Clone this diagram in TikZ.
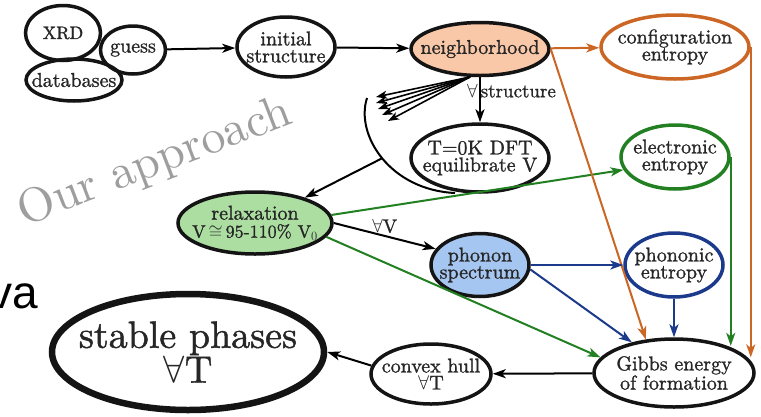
\RequirePackage{fix-cm}
\documentclass[tikz,border=0pt]{standalone}
\usepackage{fontspec}
\setmainfont{lmroman10-regular.otf}
\newfontfamily\nf{lmroman10-regular.otf}[FakeBold=1.2]
\newfontfamily\sansva{Liberation Sans}
\usetikzlibrary{shapes.geometric,arrows.meta}
\definecolor{corange}{RGB}{204,102,36}
\definecolor{cgreen}{RGB}{34,128,34}
\definecolor{cblue}{RGB}{28,58,140}
\definecolor{fpeach}{RGB}{249,200,168}
\definecolor{fgreen}{RGB}{172,222,162}
\definecolor{fblue}{RGB}{165,198,240}
\begin{document}
\begin{tikzpicture}[x=1pt,y=-1pt,
  ell/.style={ellipse, draw=black!92, line width=3.5pt, inner sep=0pt},
  txt/.style={font=\nf\fontsize{20}{17}\selectfont, text=black!85, align=center, inner sep=0pt},
  lbl/.style={font=\nf\fontsize{19}{19}\selectfont, text=black!85, inner sep=2pt},
  arr/.style={line width=2pt, -{Stealth[length=13pt,width=9pt,inset=3.5pt]}},
  fanarr/.style={line width=1.6pt, -{Stealth[length=11pt,width=8pt,inset=3pt]}}]
\clip (0,0) rectangle (761,416);
\fill[white] (0,0) rectangle (761,416);

% background texts
\node[font=\fontsize{48}{48}\selectfont, text=black!38, rotate=21] (ourapp) at (155,163) {Our approach};
\node[font=\sansva\fontsize{46}{46}\selectfont, anchor=base west, inner sep=0pt] (va) at (-11,308) {va};

% nodes
\node[ell, minimum width=75pt, minimum height=55pt, label={[txt,font=\nf\fontsize{18}{17}\selectfont]center:XRD}] (xrd) at (63,33) {};
\node[ell, minimum width=96pt, minimum height=42pt, label={[txt]center:databases}] (db) at (74,80) {};
\node[ell, minimum width=65pt, minimum height=48pt, label={[txt]center:guess}] (guess) at (133,50) {};
\node[ell, minimum width=98pt, minimum height=60pt, label={[txt]center:{initial\\structure}}] (init) at (286,47) {};
\node[ell, fill=fpeach, minimum width=138pt, minimum height=53pt, label={[txt]center:neighborhood}] (nb) at (480,49) {};
\node[ell, draw=corange, minimum width=148pt, minimum height=64pt, label={[txt]center:{configuration\\entropy}}] (conf) at (675,47) {};
\node[ell, minimum width=138pt, minimum height=68pt, label={[txt]center:{T=0K DFT\\equilibrate V}}] (dft) at (480,158) {};
\node[ell, draw=cgreen, minimum width=108pt, minimum height=64pt, label={[txt]center:{electronic\\entropy}}] (elec) at (675,157) {};
\node[ell, fill=fgreen, minimum width=154pt, minimum height=62pt, label={[txt]center:{relaxation\\[1pt]{\fontsize{18}{17}\selectfont V$\,\cong\,$95-110\% V$_{0}$}}}] (relax) at (255,223) {};
\node[ell, fill=fblue, minimum width=98pt, minimum height=63pt, label={[txt]center:{phonon\\spectrum}}] (phon) at (480,265) {};
\node[ell, draw=cblue, minimum width=98pt, minimum height=64pt, label={[txt]center:{phononic\\entropy}}] (phonic) at (674,265) {};
\node[ell, minimum width=160pt, minimum height=68pt, label={[txt]center:{Gibbs energy\\of formation}}] (gibbs) at (674,373) {};
\node[ell, minimum width=120pt, minimum height=60pt, label={[txt]center:{convex hull\\$\forall$T}}] (convex) at (431,374) {};
\node[ell, line width=6.5pt, minimum width=272pt, minimum height=116pt, label={[txt,font=\nf\fontsize{38}{33}\selectfont]center:{stable phases\\$\forall$T}}] (stable) at (188,352) {};

% black flow
\draw[arr] (guess) -- (init);
\draw[arr] (init) -- (nb);
\draw[arr] (nb) -- node[lbl, pos=0.3, anchor=west, xshift=-16pt] (lstruct) {$\forall$\,structure} (dft);

% fan of arrows
\coordinate (fan) at (470,77);
\coordinate (t1) at (376,97);
\coordinate (t2) at (376,103);
\coordinate (t3) at (378,109);
\coordinate (t4) at (382,115);
\coordinate (t5) at (388,121);
\foreach \t in {t1,t2,t3,t4,t5} \draw[fanarr] (fan) -- (\t);

% loop curve
\coordinate (cs) at (367,98);
\coordinate (ce) at (455,193);
\draw[line width=2pt] (cs) .. controls (355,135) and (390,190) .. coordinate[pos=0.5] (cm) (ce);
\draw[arr] (cm) -- (relax);

\draw[arr] (relax.east) -- node[lbl, above, pos=0.5] (lv) {$\forall$V} (phon.160);

% green
\draw[arr, color=cgreen] (relax.6) -- (elec.194);
\draw[arr, color=cgreen] (relax.349) -- (gibbs.168);
\draw[arr, color=cgreen] (elec.east) -- (elec.east |- gibbs.27);

% orange
\draw[arr, color=corange] (nb) -- (conf);
\draw[arr, color=corange] (nb.east) -- (gibbs.130);
\draw[arr, color=corange] (conf.east) -- (conf.east |- gibbs.12);

% blue
\draw[arr, color=cblue] (phon.east) -- (phonic.west);
\draw[arr, color=cblue] (phon.-5) -- (gibbs.144);
\draw[arr, color=cblue] (phonic) -- (gibbs);

% result
\draw[arr] (gibbs) -- (convex);
\draw[arr] (convex.172) -- (stable.east);
\end{tikzpicture}
\end{document}
